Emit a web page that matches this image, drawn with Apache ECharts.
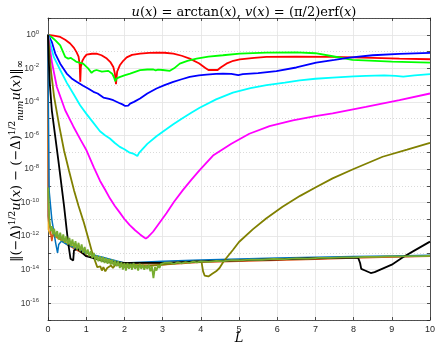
<!DOCTYPE html>
<html><head><meta charset="utf-8">
<script src="https://cdn.jsdelivr.net/npm/echarts@6/dist/echarts.min.js"></script>
<style>html,body{margin:0;padding:0;background:#fff}#c{width:436px;height:348px}</style>
</head><body><div id="c"></div>
<script>
// x values: L ; y values stored as log10 of the error
const redL = [0,0.15,0.32,0.45,0.58,0.68,0.75,0.8,0.83,0.845,0.86,0.9,0.95,1.01,1.15,1.27,1.4,1.54,1.64,1.71,1.75,1.78,1.81,1.88,1.97,2.06,2.2,2.41,2.65,2.84,3.05,3.28,3.5,3.71,3.95,4.12,4.2,4.44,4.52,4.67,4.85,5.02,5.4,5.72,6.5,7.45,8.5,9.2,10];
const redV = [0,-0.05,-0.13,-0.3,-0.52,-0.78,-1.05,-1.3,-1.8,-2.8,-1.9,-1.55,-1.35,-1.18,-1.13,-1.12,-1.22,-1.42,-1.65,-1.92,-2.3,-2.95,-2.2,-1.82,-1.55,-1.35,-1.2,-1.12,-1.08,-1.06,-1.07,-1.12,-1.25,-1.42,-1.7,-1.98,-2.1,-2.1,-1.95,-1.72,-1.55,-1.46,-1.38,-1.32,-1.3,-1.32,-1.38,-1.42,-1.46];

const greenL = [0,0.1,0.2,0.32,0.45,0.53,0.6,0.66,0.75,0.92,1.05,1.14,1.2,1.27,1.41,1.58,1.68,1.73,1.76,1.8,1.89,2.0,2.15,2.41,2.6,2.76,2.82,2.88,3.0,3.19,3.3,3.45,3.65,3.89,4.2,4.58,5.02,5.72,6.5,7.0,7.45,7.97,9.0,10];
const greenV = [0,-0.15,-0.35,-0.63,-1.32,-1.42,-1.38,-1.48,-1.62,-1.72,-2.0,-2.27,-2.15,-2.1,-2.2,-2.15,-2.32,-2.55,-2.77,-2.6,-2.51,-2.42,-2.31,-2.11,-2.07,-2.07,-2.12,-2.08,-2.1,-2.15,-2.0,-1.72,-1.55,-1.42,-1.3,-1.22,-1.12,-1.06,-1.05,-1.1,-1.28,-1.5,-1.6,-1.66];

const blueL = [0,0.1,0.19,0.32,0.49,0.62,0.75,0.92,1.05,1.19,1.3,1.45,1.6,1.71,1.85,1.95,2.02,2.1,2.15,2.25,2.41,2.6,2.84,3.05,3.28,3.5,3.71,3.95,4.15,4.4,4.58,4.8,4.98,5.1,5.5,5.98,6.5,7.02,7.5,7.89,8.5,9.2,10];
const blueV = [0,-0.43,-1.12,-1.72,-2.31,-2.6,-2.8,-3.04,-3.2,-3.4,-3.5,-3.74,-3.82,-3.9,-4.05,-4.15,-4.24,-4.22,-4.1,-4.0,-3.8,-3.5,-3.2,-3.0,-2.81,-2.65,-2.51,-2.42,-2.37,-2.33,-2.31,-2.33,-2.41,-2.35,-2.28,-2.17,-1.95,-1.66,-1.5,-1.36,-1.22,-1.14,-1.08];

const cyanL = [0,0.15,0.32,0.49,0.66,0.84,1.0,1.19,1.36,1.5,1.62,1.75,1.88,2.0,2.14,2.25,2.34,2.38,2.45,2.6,2.84,3.05,3.27,3.5,3.75,3.97,4.4,4.84,5.3,5.72,6.2,6.59,7.0,7.45,8.0,8.32,8.8,9.1,9.3,9.6,10];
const cyanV = [0,-1.32,-2.1,-2.85,-3.5,-4.2,-4.7,-5.25,-5.75,-6.0,-6.18,-6.45,-6.68,-6.82,-7.03,-7.1,-7.23,-7.05,-6.88,-6.5,-6.05,-5.7,-5.35,-5.0,-4.65,-4.35,-3.85,-3.45,-3.18,-3.0,-2.85,-2.72,-2.62,-2.55,-2.48,-2.45,-2.42,-2.45,-2.5,-2.42,-2.35];

const magL = [0,0.1,0.23,0.45,0.66,0.85,1.01,1.2,1.36,1.5,1.62,1.75,1.88,2.0,2.14,2.28,2.41,2.5,2.56,2.62,2.75,2.92,3.1,3.3,3.53,3.75,3.97,4.32,4.8,5.27,5.8,6.41,7.0,7.45,8.32,9.2,10];
const magV = [0,-1.6,-3.1,-4.5,-5.45,-6.25,-6.9,-7.9,-8.7,-9.25,-9.75,-10.2,-10.6,-10.98,-11.35,-11.65,-11.9,-12.05,-12.15,-12.05,-11.74,-11.2,-10.64,-9.95,-9.26,-8.65,-8.07,-7.2,-6.5,-5.9,-5.45,-5.1,-4.85,-4.69,-4.3,-3.9,-3.5];

const oliveL = [0,0.08,0.16,0.3,0.42,0.55,0.68,0.8,0.94,1.05,1.16,1.22,1.29,1.33,1.37,1.41,1.45,1.5,1.55,1.6,1.65,1.7,1.8,2.0,2.5,3.0,3.5,3.9,4.02,4.06,4.1,4.14,4.2,4.3,4.4,4.49,4.6,4.84,5.0,5.36,5.71,6.14,6.6,7.0,7.45,8.0,8.76,9.4,10];
const oliveV = [0,-2.2,-3.7,-5.5,-6.9,-8.1,-9.26,-10.2,-11.2,-12.1,-13.0,-13.4,-13.85,-13.95,-13.8,-14.05,-13.85,-14.1,-13.9,-14.0,-13.75,-13.9,-13.6,-13.65,-13.8,-13.7,-13.58,-13.5,-13.55,-14.1,-14.35,-14.3,-14.4,-14.25,-14.1,-13.9,-13.5,-12.83,-12.35,-11.6,-10.95,-10.25,-9.6,-9.1,-8.56,-8.0,-7.27,-6.85,-6.44];

const blackL = [0,0.02,0.05,0.1,0.27,0.42,0.49,0.53,0.59,0.62,0.66,0.68,0.72,0.77,0.85,1.0,1.5,2.0,3.0,4.0,5.0,6.0,7.0,8.0,8.12,8.17,8.2,8.3,8.45,8.55,9.0,9.3,9.6,10];
const blackV = [0,-1.5,-3.0,-4.5,-7.47,-10.2,-11.64,-12.43,-13.35,-13.45,-13.45,-12.85,-12.8,-12.75,-12.9,-13.2,-13.5,-13.6,-13.6,-13.5,-13.45,-13.38,-13.32,-13.28,-13.3,-13.6,-13.95,-14.05,-14.2,-14.15,-13.7,-13.25,-12.85,-12.33];

const dBlueL = [0,0,0.03,0.1,0.2,0.25,0.28,0.35,0.5,1,2,3,4,5,6,7,8,9,10];
const dBlueV = [0,-1.8,-9.3,-11.0,-12.4,-13.0,-12.5,-12.3,-12.5,-13.0,-13.6,-13.5,-13.42,-13.36,-13.3,-13.26,-13.22,-13.18,-13.14];
const dOrangeL = [0,0,0.02,0.1,0.13,0.2,0.5,1,2,3,4,5,6,7,8,9,10];
const dOrangeV = [0,-3.0,-10.9,-12.3,-11.9,-12.0,-12.5,-13.15,-13.85,-13.7,-13.56,-13.5,-13.44,-13.38,-13.3,-13.24,-13.2];
const dYellowL = [0,0,0.01,0.06,0.1,0.5,1,2,3,5,7,10];
const dYellowV = [0,-6.0,-11.6,-11.9,-11.8,-12.4,-13.0,-13.7,-13.6,-13.45,-13.3,-13.17];
const dPurpleL = [0,0,0.02,0.08,0.2,0.5,1,2,3,5,7,10];
const dPurpleV = [0,-10.8,-11.2,-11.6,-11.9,-12.4,-13.0,-13.7,-13.62,-13.45,-13.3,-13.18];

const floorL = [0.005,0.03,0.05,0.08,0.1,0.13,0.16,0.2,0.24,0.28,0.32,0.36,0.4,0.44,0.48,0.52,0.56,0.6,0.64,0.68,0.72,0.76,0.8,0.84,0.88,0.92,0.96,1.0,1.04,1.08,1.12,1.16,1.2,1.24,1.28,1.32,1.36,1.4,1.44,1.48,1.52,1.56,1.6,1.64,1.68,1.72,1.76,1.8,1.84,1.88,1.92,1.96,2.0,2.04,2.08,2.12,2.16,2.2,2.24,2.28,2.32,2.36,2.4,2.44,2.48,2.52,2.56,2.6,2.64,2.68,2.72,2.76,2.8,2.84,2.88,2.92,2.96,3.0,3.05,3.1,3.2,3.3,3.4,3.5,3.6,3.7,3.8,3.9,4.0,4.2,4.4,4.6,4.8,5.0,5.3,5.6,5.9,6.2,6.5,6.8,7.1,7.4,7.7,8.0,8.3,8.6,8.9,9.2,9.5,9.8,10];
const floorV = [-9.1,-10.8,-11.3,-11.7,-11.4,-11.9,-11.55,-12.05,-11.7,-12.2,-11.8,-12.3,-11.9,-12.4,-12.0,-12.5,-12.1,-12.6,-12.2,-12.7,-12.3,-12.8,-12.4,-12.9,-12.5,-13.0,-12.65,-13.1,-12.8,-13.2,-12.9,-13.3,-13.0,-13.45,-13.15,-13.5,-13.2,-13.55,-13.25,-13.6,-13.3,-13.65,-13.35,-13.7,-13.4,-13.75,-13.45,-13.8,-13.5,-13.9,-13.55,-14.0,-13.6,-14.05,-13.6,-13.95,-13.65,-14.0,-13.6,-13.95,-13.7,-14.05,-13.65,-13.95,-13.7,-14.0,-13.75,-13.95,-13.7,-14.1,-13.8,-14.5,-13.85,-14.05,-13.75,-13.9,-13.65,-13.72,-13.6,-13.68,-13.58,-13.65,-13.56,-13.62,-13.55,-13.59,-13.52,-13.56,-13.5,-13.53,-13.47,-13.49,-13.43,-13.45,-13.4,-13.41,-13.36,-13.37,-13.33,-13.34,-13.3,-13.3,-13.27,-13.27,-13.24,-13.24,-13.21,-13.21,-13.19,-13.19,-13.17];

const xTickLabels = ['0','1','2','3','4','5','6','7','8','9','10'];

function pts(L, V) { return L.map((l, i) => [l, Math.pow(10, V[i])]); }
function line(name, L, V, color, width) {
  return { name, type: 'line', data: pts(L, V), symbol: 'none', showSymbol: false,
    lineStyle: { color, width }, itemStyle: { color }, animation: false, clip: true, silent: true };
}

const chart = echarts.init(document.getElementById('c'), null, { renderer: 'canvas' });
const axisCol = '#262626';
const sans = 'Liberation Sans';
const serif = 'DejaVu Serif';
const titleRich = {
  n: { fontFamily: serif, fontSize: 13, fontWeight: 'normal', color: '#000' },
  i: { fontFamily: serif, fontSize: 13, fontWeight: 'normal', fontStyle: 'italic', color: '#000' }
};
const yNameRich = {
  n: { fontFamily: serif, fontSize: 13, color: '#000', lineHeight: 17 },
  i: { fontFamily: serif, fontSize: 13, fontStyle: 'italic', color: '#000', lineHeight: 17 },
  s: { fontFamily: serif, fontSize: 9, color: '#000', verticalAlign: 'top', lineHeight: 9 },
  b: { fontFamily: serif, fontSize: 9, fontStyle: 'italic', color: '#000', verticalAlign: 'bottom', lineHeight: 9 },
  bn: { fontFamily: serif, fontSize: 10, color: '#000', verticalAlign: 'bottom', lineHeight: 9 }
};

const yBase = { type: 'log', logBase: 10, min: 1e-17, max: 10, interval: 1 };

chart.setOption({
  backgroundColor: '#fff',
  animation: false,
  title: {
    text: '{i|u}{n|(}{i|x}{n|) = arctan(}{i|x}{n|), }{i|v}{n|(}{i|x}{n|) = (π/2)erf(}{i|x}{n|)}',
    left: 239, top: 1, textAlign: 'center',
    textStyle: { fontWeight: 'normal', rich: titleRich }
  },
  grid: { left: 48, right: 6, top: 18, bottom: 28, containLabel: false, outerBoundsMode: 'none' },
  xAxis: [
    { type: 'value', min: 0, max: 10, interval: 1, position: 'bottom',
      axisLine: { show: true, onZero: false, lineStyle: { color: axisCol, width: 0.8 } },
      axisTick: { show: true, inside: true, length: 3, lineStyle: { color: axisCol, width: 0.8 } },
      axisLabel: { color: axisCol, fontSize: 9, fontFamily: sans, margin: 5,
        formatter: v => xTickLabels[Math.round(v)] },
      splitLine: { show: true, lineStyle: { color: '#e3e3e3', width: 0.8 } },
      name: 'L', nameLocation: 'middle', nameGap: 12, nameMoveOverlap: false,
      nameTextStyle: { fontFamily: serif, fontStyle: 'italic', fontSize: 13, color: '#000' } },
    { type: 'value', min: 0, max: 10, interval: 1, position: 'top',
      axisLine: { show: true, onZero: false, lineStyle: { color: axisCol, width: 0.8 } },
      axisTick: { show: true, inside: true, length: 3, lineStyle: { color: axisCol, width: 0.8 } },
      axisLabel: { show: false }, splitLine: { show: false } }
  ],
  yAxis: [
    Object.assign({}, yBase, { position: 'left',
      axisLine: { show: true, onZero: false, lineStyle: { color: axisCol, width: 0.8 } },
      axisTick: { show: true, inside: true, length: 3, lineStyle: { color: axisCol, width: 0.8 } },
      axisLabel: { margin: 9,
        formatter: v => { const e = Math.round(Math.log10(v)); if (e % 2 !== 0) return ''; return '{b|10}{s|' + e + '}'; },
        rich: {
          b: { fontFamily: sans, fontSize: 8.5, color: '#3a3a3a', lineHeight: 11 },
          s: { fontFamily: sans, fontSize: 6, color: '#3a3a3a', verticalAlign: 'top', lineHeight: 6 }
        } },
      splitLine: { show: true, lineStyle: { color: ['rgba(0,0,0,0)', '#e3e3e3'], width: 0.8 } },
      name: '{n|‖(−Δ)}{s|1/2}{i|u}{n|(}{i|x}{n|) − (−Δ)}{s|1/2}{b|num}{i|u}{n|(}{i|x}{n|)‖}{bn|∞}',
      nameLocation: 'middle', nameGap: 23, nameRotate: 90, nameMoveOverlap: false,
      nameTextStyle: { rich: yNameRich, padding: [0, 0, 0, 16] } }),
    Object.assign({}, yBase, { position: 'right',
      axisLine: { show: true, onZero: false, lineStyle: { color: axisCol, width: 0.8 } },
      axisTick: { show: true, inside: true, length: 3, lineStyle: { color: axisCol, width: 0.8 } },
      axisLabel: { show: false },
      splitLine: { show: true, lineStyle: { color: ['#d0d0d0', 'rgba(0,0,0,0)'], width: 0.8, type: [1, 2] } } })
  ],
  series: [
    line('p', dPurpleL, dPurpleV, '#7E2F8E', 1.5),
    line('y', dYellowL, dYellowV, '#EDB120', 1.5),
    line('o', dOrangeL, dOrangeV, '#D95319', 1.5),
    line('b0', dBlueL, dBlueV, '#0072BD', 1.5),
    line('red', redL, redV, '#FF0000', 1.8),
    line('green', greenL, greenV, '#00FF00', 1.8),
    line('blue', blueL, blueV, '#0000FF', 1.8),
    line('cyan', cyanL, cyanV, '#00FFFF', 1.8),
    line('magenta', magL, magV, '#FF00FF', 1.8),
    line('olive', oliveL, oliveV, '#808000', 1.8),
    line('black', blackL, blackV, '#000000', 1.8),
    line('floor', floorL, floorV, '#77AC30', 1.8)
  ]
});
</script>
</body></html>
